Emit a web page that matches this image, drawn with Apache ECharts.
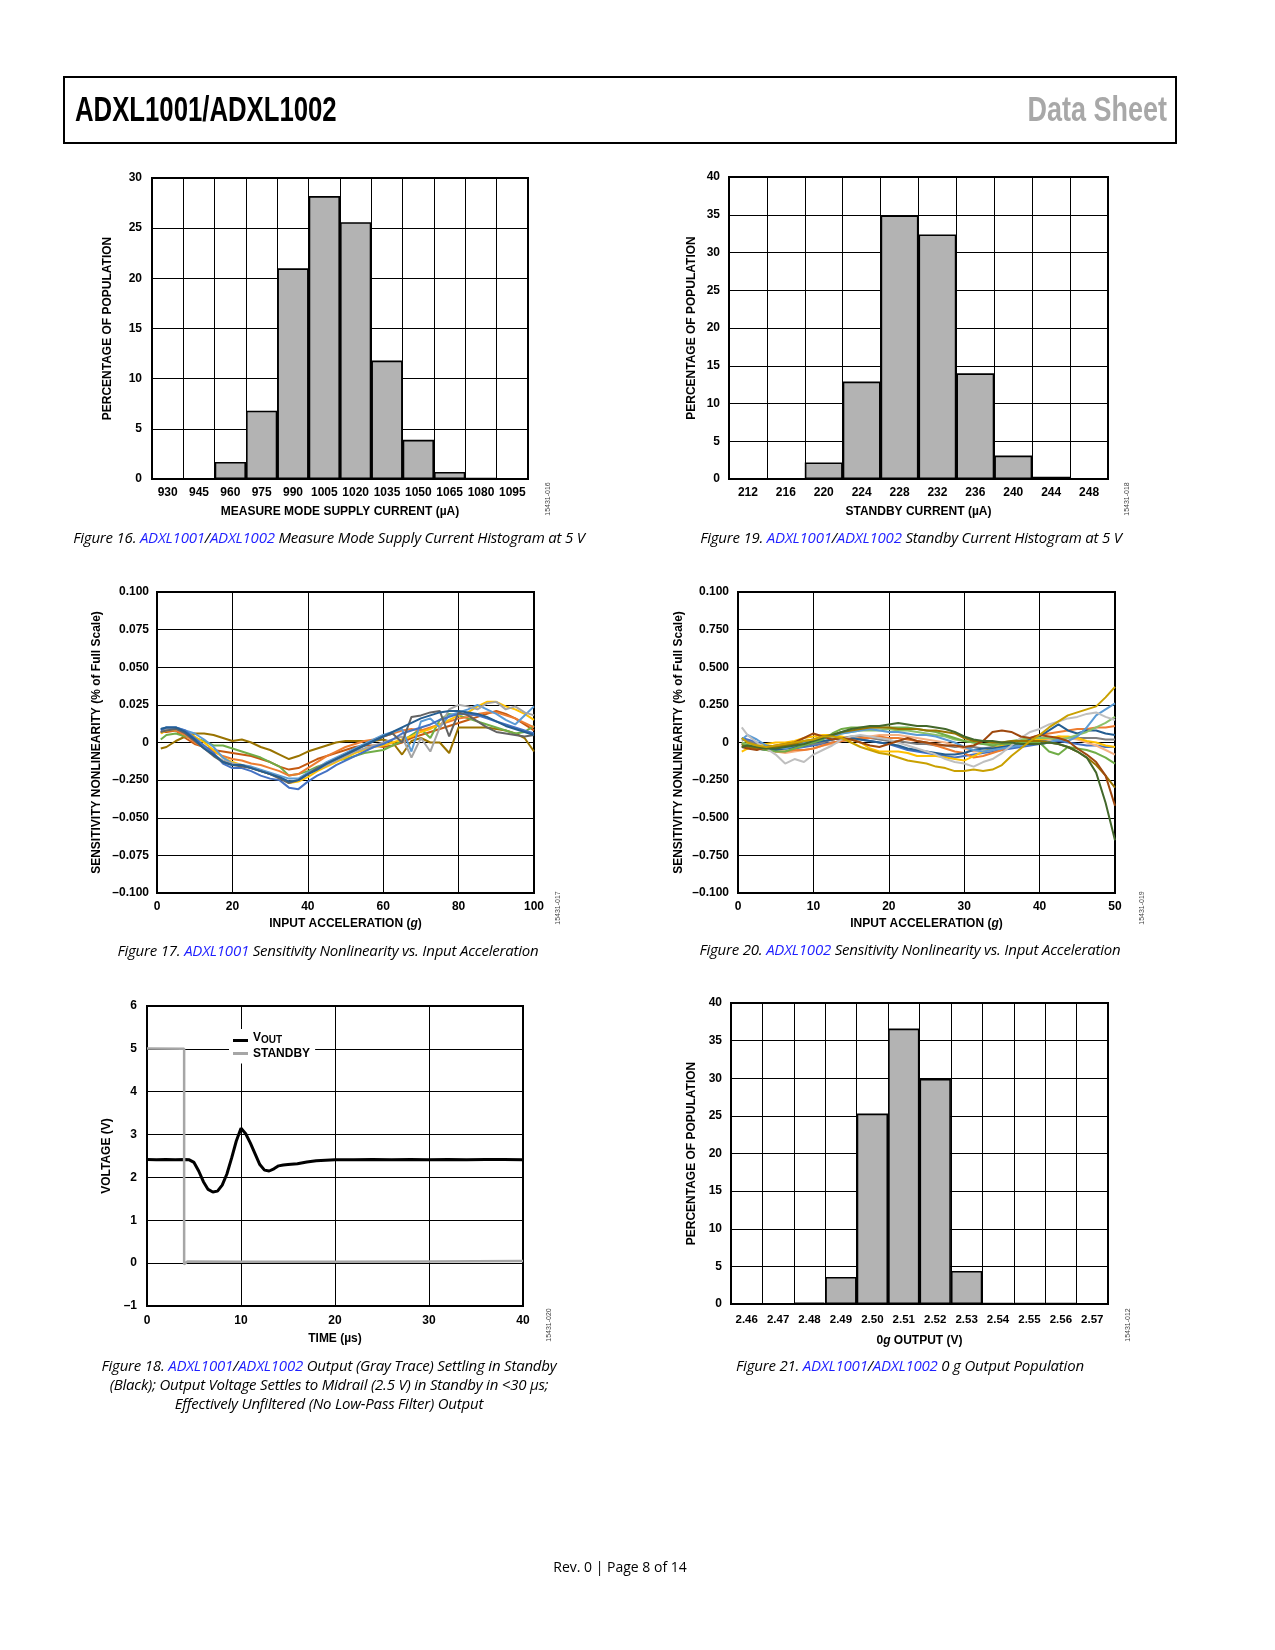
<!DOCTYPE html>
<html><head><meta charset="utf-8">
<script src="https://cdn.jsdelivr.net/npm/echarts/dist/echarts.min.js"></script>
<style>
html,body{margin:0;padding:0;background:#fff;}
#page{position:relative;width:1275px;height:1650px;overflow:hidden;background:#fff;}
#chart{position:absolute;left:0;top:0;width:1275px;height:1650px;}
.hdr{position:absolute;left:63px;top:76px;width:1110px;height:64px;border:2px solid #000;z-index:2;}
.hdr .t{position:absolute;left:10px;top:11px;font-family:'Liberation Sans',Arial,sans-serif;font-weight:bold;font-size:35px;color:#000;transform:scaleX(0.735);transform-origin:left center;white-space:nowrap;}
.hdr .r{position:absolute;right:8px;top:11px;font-family:'Liberation Sans',Arial,sans-serif;font-weight:bold;font-size:35px;color:#A8A8A8;transform:scaleX(0.77);transform-origin:right center;white-space:nowrap;}
.cap{position:absolute;transform:translateX(-50%);white-space:nowrap;font-family:'Open Sans',sans-serif;font-style:italic;font-size:15px;color:#000;text-align:center;line-height:19px;z-index:2;letter-spacing:-0.2px;}
.cap a{color:#1F1FFF;text-decoration:none;}
.foot{position:absolute;left:620px;top:1557px;transform:translateX(-50%);font-family:'Open Sans',sans-serif;font-size:14px;color:#000;white-space:nowrap;}
</style></head>
<body><div id="page">
<div id="chart"></div>
<div class="hdr"><span class="t">ADXL1001/ADXL1002</span><span class="r">Data Sheet</span></div>
<div class="cap" style="left:329px;top:528px">Figure 16. <a>ADXL1001</a>/<a>ADXL1002</a> Measure Mode Supply Current Histogram at 5 V</div>
<div class="cap" style="left:911px;top:528px">Figure 19. <a>ADXL1001</a>/<a>ADXL1002</a> Standby Current Histogram at 5 V</div>
<div class="cap" style="left:328px;top:941px">Figure 17. <a>ADXL1001</a> Sensitivity Nonlinearity vs. Input Acceleration</div>
<div class="cap" style="left:910px;top:940px">Figure 20. <a>ADXL1002</a> Sensitivity Nonlinearity vs. Input Acceleration</div>
<div class="cap" style="left:329px;top:1356px">Figure 18. <a>ADXL1001</a>/<a>ADXL1002</a> Output (Gray Trace) Settling in Standby<br>(Black); Output Voltage Settles to Midrail (2.5 V) in Standby in &lt;30 µs;<br>Effectively Unfiltered (No Low-Pass Filter) Output</div>
<div class="cap" style="left:910px;top:1356px">Figure 21. <a>ADXL1001</a>/<a>ADXL1002</a> 0 g Output Population</div>
<div class="foot">Rev. 0 | Page 8 of 14</div>
</div>
<script>
// ---------- DATA ----------
const F16_CATS = ['930','945','960','975','990','1005','1020','1035','1050','1065','1080','1095'];
const F16_VALS = [0,0,1.7,6.8,21.0,28.2,25.6,11.8,3.9,0.7,0.1,0];

const F19_CATS = ['212','216','220','224','228','232','236','240','244','248'];
const F19_VALS = [0,0,2.2,12.9,34.9,32.4,14.0,3.1,0.3,0];

const F21_CATS = ['2.46','2.47','2.48','2.49','2.50','2.51','2.52','2.53','2.54','2.55','2.56','2.57'];
const F21_VALS = [0,0,0.2,3.6,25.3,36.6,29.9,4.4,0.1,0.1,0.1,0];

const F17_TICKS = ['\u20130.100','\u20130.075','\u20130.050','\u20130.250','0','0.025','0.050','0.075','0.100'];
const F20_TICKS = ['\u20130.100','\u20130.750','\u20130.500','\u20130.250','0','0.250','0.500','0.750','0.100'];

const F17_X = [1,2.5,5,7.5,10,12.5,15,17.5,20,22.5,25,27.5,30,32.5,35,37.5,40,42.5,45,47.5,50,52.5,55,57.5,60,62.5,65,67.5,70,72.5,75,77.5,80,82.5,85,87.5,90,92.5,95,97.5,100];
const F17_BLUE = [0.008,0.010,0.010,0.008,0.003,-0.002,-0.007,-0.014,-0.017,-0.017,-0.019,-0.022,-0.024,-0.025,-0.030,-0.031,-0.026,-0.022,-0.019,-0.015,-0.012,-0.009,-0.006,-0.003,-0.001,0.002,0.006,0.008,0.010,0.012,0.015,0.017,0.019,0.019,0.018,0.016,0.014,0.012,0.010,0.008,0.006];
const F17_ORANGE = [0.006,0.008,0.008,0.005,0.000,-0.003,-0.006,-0.009,-0.011,-0.012,-0.014,-0.015,-0.017,-0.019,-0.022,-0.021,-0.017,-0.013,-0.009,-0.006,-0.003,-0.001,0.001,0.002,0.004,0.006,0.008,0.009,0.008,0.010,0.012,0.014,0.016,0.017,0.019,0.020,0.020,0.018,0.016,0.013,0.010];
const F17_GRAY = [0.007,0.009,0.009,0.007,0.002,-0.003,-0.008,-0.012,-0.014,-0.015,-0.017,-0.019,-0.021,-0.023,-0.026,-0.025,-0.021,-0.018,-0.015,-0.012,-0.009,-0.006,-0.004,-0.002,0.000,0.002,0.004,-0.010,0.003,-0.006,0.010,0.022,0.025,0.024,0.022,0.026,0.027,0.022,0.024,0.020,0.018];
const F17_YELLOW = [0.006,0.008,0.009,0.007,0.004,0.000,-0.005,-0.010,-0.013,-0.015,-0.017,-0.019,-0.021,-0.023,-0.027,-0.026,-0.023,-0.019,-0.016,-0.013,-0.010,-0.007,-0.005,-0.003,-0.002,0.000,0.002,0.004,0.007,0.009,0.012,0.015,0.018,0.020,0.024,0.027,0.027,0.024,0.022,0.019,0.015];
const F17_LTBLUE = [0.009,0.010,0.010,0.008,0.006,0.002,-0.003,-0.010,-0.014,-0.015,-0.016,-0.018,-0.020,-0.022,-0.024,-0.024,-0.020,-0.017,-0.013,-0.010,-0.007,-0.004,-0.001,0.002,0.005,0.007,0.009,-0.006,0.014,0.016,0.010,0.018,0.020,0.022,0.025,0.022,0.019,0.015,0.012,0.018,0.024];
const F17_GREEN = [0.002,0.005,0.006,0.004,0.003,0.001,-0.002,-0.002,-0.004,-0.006,-0.008,-0.010,-0.013,-0.016,-0.022,-0.021,-0.019,-0.016,-0.014,-0.012,-0.011,-0.009,-0.007,-0.006,-0.005,-0.002,0.001,0.005,0.009,0.003,0.015,0.019,0.018,0.016,0.014,0.012,0.010,0.008,0.006,0.007,0.011];
const F17_DKBLUE = [0.009,0.010,0.010,0.007,0.002,-0.004,-0.008,-0.013,-0.015,-0.015,-0.017,-0.019,-0.021,-0.023,-0.026,-0.025,-0.021,-0.018,-0.014,-0.011,-0.008,-0.005,-0.002,0.001,0.004,0.007,0.010,0.013,0.016,0.018,0.020,0.021,0.021,0.020,0.019,0.017,0.014,0.011,0.009,0.007,0.005];
const F17_BROWN = [0.007,0.007,0.008,0.003,-0.001,-0.003,-0.005,-0.006,-0.007,-0.008,-0.009,-0.011,-0.013,-0.016,-0.018,-0.017,-0.014,-0.011,-0.009,-0.007,-0.005,-0.003,-0.002,-0.002,-0.003,-0.002,0.000,0.003,0.005,0.007,0.009,0.011,0.013,0.015,0.017,0.019,0.021,0.019,0.016,0.012,0.008];
const F17_DKGRAY = [0.007,0.008,0.009,0.006,0.001,-0.004,-0.009,-0.013,-0.015,-0.016,-0.017,-0.019,-0.021,-0.024,-0.027,-0.025,-0.021,-0.017,-0.014,-0.011,-0.008,-0.005,-0.002,0.001,0.004,0.006,0.000,0.017,0.018,0.020,0.021,0.004,0.020,0.018,0.014,0.010,0.007,0.006,0.005,0.004,0.005];
const F17_OLIVE = [-0.004,-0.003,0.001,0.004,0.006,0.006,0.005,0.003,0.001,0.002,0.000,-0.003,-0.005,-0.008,-0.011,-0.009,-0.006,-0.004,-0.002,0.000,0.001,0.001,0.001,0.001,0.002,0.000,-0.008,0.001,0.003,0.000,0.000,-0.007,0.010,0.010,0.010,0.010,0.009,0.008,0.006,0.003,-0.006];

const F20_X = [0.5,1.25,2.5,3.75,5,6.25,7.5,8.75,10,11.25,12.5,13.75,15,16.25,17.5,18.75,20,21.25,22.5,23.75,25,26.25,27.5,28.75,30,31.25,32.5,33.75,35,36.25,37.5,38.75,40,41.25,42.5,43.75,45,46.25,47.5,48.75,50];
const F20_GOLD = [0.03,0,-0.02,-0.03,-0.02,-0.01,0,0.01,0.02,0.04,0.04,0.03,0,-0.03,-0.05,-0.07,-0.08,-0.10,-0.12,-0.13,-0.14,-0.16,-0.17,-0.19,-0.19,-0.18,-0.19,-0.18,-0.15,-0.09,-0.04,0.01,0.05,0.10,0.14,0.18,0.20,0.22,0.24,0.30,0.37];
const F20_LTGRAY = [0.10,0.05,0,-0.04,-0.08,-0.14,-0.11,-0.13,-0.08,-0.05,-0.02,0.02,0.04,0.05,0.04,0.03,0.02,0,-0.02,-0.04,-0.06,-0.08,-0.11,-0.13,-0.14,-0.16,-0.13,-0.11,-0.07,-0.02,0.03,0.07,0.09,0.12,0.14,0.16,0.17,0.19,0.20,0.17,0.15];
const F20_LTBLUE = [0.02,0.05,0.02,-0.02,-0.03,-0.04,-0.02,0,0.02,0.03,0.04,0.06,0.07,0.08,0.09,0.08,0.07,0.07,0.06,0.05,0.05,0.04,0.02,0,-0.03,-0.05,-0.06,-0.05,-0.04,-0.03,-0.02,-0.01,-0.01,0,0.02,0.01,0.04,0.10,0.18,0.22,0.26];
const F20_DKGREEN = [-0.03,-0.02,-0.03,-0.04,-0.04,-0.03,-0.02,-0.01,0.01,0.03,0.05,0.07,0.09,0.10,0.11,0.11,0.12,0.13,0.12,0.11,0.11,0.10,0.09,0.07,0.04,0.02,0.01,0.01,0,0,-0.01,-0.01,-0.01,0,-0.01,-0.03,-0.06,-0.10,-0.20,-0.40,-0.65];
const F20_BROWN = [-0.03,-0.04,-0.05,-0.03,-0.02,-0.01,0,0.03,0.06,0.04,0.02,0.03,0.02,0,-0.02,-0.03,-0.01,0.01,0.03,0.01,0,-0.01,-0.02,-0.02,-0.03,-0.02,0.01,0.07,0.08,0.07,0.04,0.03,0.05,0.04,0.03,0.01,-0.04,-0.08,-0.13,-0.22,-0.42];
const F20_ORANGE = [0,-0.02,-0.03,-0.04,-0.06,-0.06,-0.05,-0.05,-0.04,-0.02,0,0.01,0.02,0.03,0.03,0.04,0.03,0.03,0.02,0.01,0,-0.02,-0.04,-0.06,-0.07,-0.10,-0.09,-0.07,-0.05,-0.02,0.01,0.03,0.05,0.06,0.07,0.08,0.09,0.09,0.10,0.10,0.11];
const F20_YELLOW = [-0.06,-0.04,-0.02,-0.01,0,0,0.01,0.03,0.04,0.05,0.05,0.04,0.02,0,-0.04,-0.06,-0.06,-0.06,-0.07,-0.09,-0.09,-0.09,-0.10,-0.11,-0.12,-0.09,-0.06,-0.04,-0.02,0,0.01,0.02,0.02,0.03,0.04,0.04,0.03,0.01,0,-0.02,-0.03];
const F20_GREEN = [-0.01,-0.02,-0.04,-0.05,-0.06,-0.06,-0.04,-0.02,0,0.02,0.06,0.09,0.10,0.10,0.10,0.10,0.10,0.10,0.10,0.09,0.08,0.07,0.05,0.03,0.01,0,-0.01,-0.02,-0.01,-0.01,0,0,0,-0.06,-0.08,-0.03,-0.04,-0.05,-0.07,-0.10,-0.14];
const F20_LTGREEN = [0,-0.01,-0.02,-0.03,-0.03,-0.02,-0.01,0,0.02,0.03,0.05,0.06,0.07,0.08,0.08,0.08,0.09,0.08,0.08,0.07,0.06,0.05,0.04,0.02,0.01,0,-0.01,-0.01,0,0.01,0.02,0.03,0.03,0.03,0.02,0.03,0.05,0.07,0.10,0.13,0.17];
const F20_DKBLUE = [-0.01,-0.02,-0.04,-0.05,-0.05,-0.04,-0.03,-0.02,0,0.01,0.02,0.03,0.03,0.02,0.01,0,-0.01,-0.02,-0.04,-0.05,-0.06,-0.07,-0.08,-0.08,-0.07,-0.05,-0.04,-0.04,-0.03,-0.02,0,0.02,0.04,0.08,0.12,0.08,0.06,0.08,0.08,0.06,0.05];
const F20_DKGRAY = [0.02,0.01,-0.01,-0.03,-0.04,-0.04,-0.03,-0.02,-0.01,0,0.02,0.03,0.04,0.04,0.03,0.02,0.01,0.01,0,-0.01,-0.01,-0.02,-0.02,-0.03,-0.03,-0.03,-0.04,-0.03,-0.03,-0.02,-0.01,0,0.01,0.02,0.02,0.03,0.03,0.03,0.03,0.02,0.02];
const F20_LTORANGE = [-0.01,-0.03,-0.04,-0.05,-0.06,-0.07,-0.06,-0.05,-0.04,-0.02,-0.01,0.01,0.02,0.03,0.04,0.05,0.05,0.05,0.04,0.03,0.02,0.01,0,-0.02,-0.04,-0.06,-0.06,-0.05,-0.03,-0.01,0.01,0.02,0.03,0.02,0.04,0.03,0.02,0,-0.02,-0.05,-0.08];
const F20_OLIVE = [-0.02,-0.03,-0.04,-0.04,-0.03,-0.02,-0.01,0.01,0.02,0.04,0.05,0.07,0.08,0.09,0.10,0.10,0.10,0.09,0.09,0.09,0.08,0.08,0.07,0.06,0.03,0.01,0.01,0,0,0.01,0.01,0.01,0.01,0,-0.01,-0.03,-0.06,-0.10,-0.15,-0.22,-0.30];
const F20_BLUE = [0.03,0.02,0,-0.02,-0.03,-0.04,-0.04,-0.03,-0.02,-0.01,0,0.01,0.02,0.02,0.01,0,-0.01,-0.03,-0.05,-0.06,-0.07,-0.08,-0.09,-0.10,-0.09,-0.08,-0.07,-0.06,-0.05,-0.04,-0.03,-0.02,-0.01,0,0.01,0,-0.01,-0.02,-0.02,-0.03,-0.03];

const F18_T = [0,1,2,3,4,4.5,5,5.5,6,6.5,7,7.5,8,8.5,9,9.5,10,10.5,11,11.5,12,12.5,13,13.5,14,14.5,15,16,17,18,19,20,22,24,26,28,30,32,34,36,38,40];
const F18_VOUT = [2.42,2.41,2.42,2.41,2.42,2.41,2.35,2.15,1.9,1.72,1.66,1.68,1.82,2.08,2.45,2.85,3.15,3.02,2.8,2.55,2.3,2.17,2.15,2.2,2.27,2.29,2.3,2.32,2.36,2.39,2.4,2.41,2.41,2.42,2.41,2.42,2.41,2.42,2.41,2.42,2.42,2.41];
const F18_T_STBY = [0,3.95,3.95,4.3,10,20,30,40];
const F18_STBY = [5.01,5.0,-0.03,0.04,0.03,0.03,0.04,0.05];

// ---------- CHART ----------
const FONT = "'Liberation Sans', Arial, sans-serif";
const lbl = {color:'#000', fontWeight:'bold', fontSize:12, fontFamily:FONT};
const nameStyle = {color:'#000', fontWeight:'bold', fontSize:12, fontFamily:FONT,
  rich:{n:{color:'#000',fontWeight:'bold',fontSize:12,fontFamily:FONT}, it:{color:'#000',fontWeight:'bold',fontStyle:'italic',fontSize:12,fontFamily:FONT}}};
const split = {show:true, lineStyle:{color:'#000', width:1}};
const minus = v => String(v).replace('-', '\u2013');
const pair = (xs, ys) => xs.map((x,i) => [x, ys[i]]);

const grids = [
  {left:152, top:178, width:376, height:301},
  {left:729, top:177, width:379, height:302},
  {left:157, top:592, width:377, height:301},
  {left:738, top:592, width:377, height:301},
  {left:147, top:1006, width:376, height:300},
  {left:731, top:1003, width:377, height:301}
].map(g => Object.assign({show:true, borderColor:'#000', borderWidth:2, backgroundColor:'rgba(0,0,0,0)', containLabel:false}, g));

function catX(gi, cats, name, gap, margin, fs){
  return {gridIndex:gi, type:'category', data:cats, boundaryGap:true,
    axisLine:{show:false}, axisTick:{show:false},
    axisLabel:Object.assign({}, lbl, {interval:0, margin:margin, fontSize:fs||12}),
    splitLine:{show:true, interval:0, lineStyle:{color:'#000', width:1}},
    name:name, nameLocation:'middle', nameGap:gap, nameTextStyle:nameStyle};
}
function valAxis(gi, min, max, interval, fmt, name, gap, margin){
  return {gridIndex:gi, type:'value', min:min, max:max, interval:interval,
    axisLine:{show:false}, axisTick:{show:false},
    axisLabel:Object.assign({}, lbl, {formatter:fmt, margin:margin}),
    splitLine:split, name:name, nameLocation:'middle', nameGap:gap, nameTextStyle:nameStyle};
}

const xAxes = [
  catX(0, F16_CATS, 'MEASURE MODE SUPPLY CURRENT (µA)', 27, 8),
  catX(1, F19_CATS, 'STANDBY CURRENT (µA)', 27, 8),
  valAxis(2, 0, 100, 20, v => v, '{n|INPUT ACCELERATION (}{it|g}{n|)}', 25, 8),
  valAxis(3, 0, 50, 10, v => v, '{n|INPUT ACCELERATION (}{it|g}{n|)}', 25, 8),
  valAxis(4, 0, 40, 10, v => v, 'TIME (µs)', 27, 9),
  catX(5, F21_CATS, '{n|0}{it|g}{n| OUTPUT (V)}', 31, 10, 11.5)
];
const yAxes = [
  valAxis(0, 0, 30, 5, v => v, 'PERCENTAGE OF POPULATION', 38, 10),
  valAxis(1, 0, 40, 5, v => v, 'PERCENTAGE OF POPULATION', 31, 9),
  valAxis(2, -0.1, 0.1, 0.025, v => F17_TICKS[Math.round((v + 0.1) / 0.025)], 'SENSITIVITY NONLINEARITY (% of Full Scale)', 54, 8),
  valAxis(3, -1, 1, 0.25, v => F20_TICKS[Math.round((v + 1) / 0.25)], 'SENSITIVITY NONLINEARITY (% of Full Scale)', 53, 9),
  valAxis(4, -1, 6, 1, v => minus(v), 'VOLTAGE (V)', 34, 10),
  valAxis(5, 0, 40, 5, v => v, 'PERCENTAGE OF POPULATION', 33, 9)
];
yAxes.forEach(a => { a.nameRotate = 90; });

const barStyle = {color:'#B3B3B3', borderColor:'#000', borderWidth:1.6};
function bars(gi, vals){
  return {type:'bar', xAxisIndex:gi, yAxisIndex:gi, data:vals, barCategoryGap:'0%', barGap:'0%', itemStyle:barStyle, z:3};
}
function line(gi, xs, ys, color, w, name){
  return {type:'line', name:name, xAxisIndex:gi, yAxisIndex:gi, data:pair(xs, ys), showSymbol:false, symbol:'none',
    lineStyle:{color:color, width:w||2}, itemStyle:{color:color}, z:3};
}

const f17 = [
  [F17_OLIVE,'#997300'],[F17_BROWN,'#C55A11'],[F17_GREEN,'#70AD47'],[F17_ORANGE,'#ED7D31'],
  [F17_YELLOW,'#FFC000'],[F17_LTBLUE,'#5B9BD5'],[F17_GRAY,'#A5A5A5'],[F17_BLUE,'#4472C4'],
  [F17_DKGRAY,'#636363'],[F17_DKBLUE,'#255E91']
];
const f20 = [
  [F20_BLUE,'#4472C4'],[F20_DKGRAY,'#7F7F7F'],[F20_LTORANGE,'#F4B183'],[F20_ORANGE,'#ED7D31'],
  [F20_YELLOW,'#FFC000'],[F20_DKBLUE,'#255E91'],[F20_LTGREEN,'#8CC168'],[F20_GREEN,'#70AD47'],
  [F20_LTBLUE,'#5B9BD5'],[F20_LTGRAY,'#BFBFBF'],[F20_OLIVE,'#997300'],[F20_BROWN,'#9E480E'],
  [F20_DKGREEN,'#43682B'],[F20_GOLD,'#C9A000']
];

const series = [
  bars(0, F16_VALS), bars(1, F19_VALS), bars(5, F21_VALS)
];
f17.forEach(s => series.push(line(2, F17_X, s[0], s[1], 2)));
f20.forEach(s => series.push(line(3, F20_X, s[0], s[1], 2)));
series.push(line(4, F18_T, F18_VOUT, '#000', 3, 'VOUT'));
series.push(line(4, F18_T_STBY, F18_STBY, '#A6A6A6', 2.5, 'STANDBY'));

function idText(x, y, t){
  return {type:'text', x:x, y:y, rotation:Math.PI/2, z:10,
    style:{text:t, fill:'#444', font:"7px 'Liberation Sans', Arial", textAlign:'center', textVerticalAlign:'middle'}};
}

const option = {
  animation:false,
  textStyle:{fontFamily:FONT},
  grid:grids, xAxis:xAxes, yAxis:yAxes, series:series,
  legend:{
    left:229, top:1029, orient:'vertical', backgroundColor:'#fff', padding:[3,5,4,4],
    itemWidth:15, itemHeight:3, itemGap:2, icon:'rect', selectedMode:false,
    data:[{name:'VOUT', itemStyle:{color:'#000'}}, {name:'STANDBY', itemStyle:{color:'#A6A6A6'}}],
    formatter: n => n === 'VOUT' ? '{a|V}{b|OUT}' : '{c|STANDBY}',
    textStyle:{color:'#000', fontWeight:'bold', fontSize:12, fontFamily:FONT,
      rich:{a:{color:'#000', fontWeight:'bold', fontSize:12, fontFamily:FONT, padding:[0,0,5,0]},
            b:{color:'#000', fontWeight:'bold', fontSize:10, fontFamily:FONT},
            c:{color:'#000', fontWeight:'bold', fontSize:12, fontFamily:FONT}}}
  },
  graphic:[
    idText(548, 499, '15431-016'), idText(1127, 499, '15431-018'),
    idText(558, 908, '15431-017'), idText(1142, 908, '15431-019'),
    idText(549, 1325, '15431-020'), idText(1128, 1325, '15431-012')
  ]
};
const chart = echarts.init(document.getElementById('chart'), null, {renderer:'canvas'});
chart.setOption(option);
</script>
</body></html>
